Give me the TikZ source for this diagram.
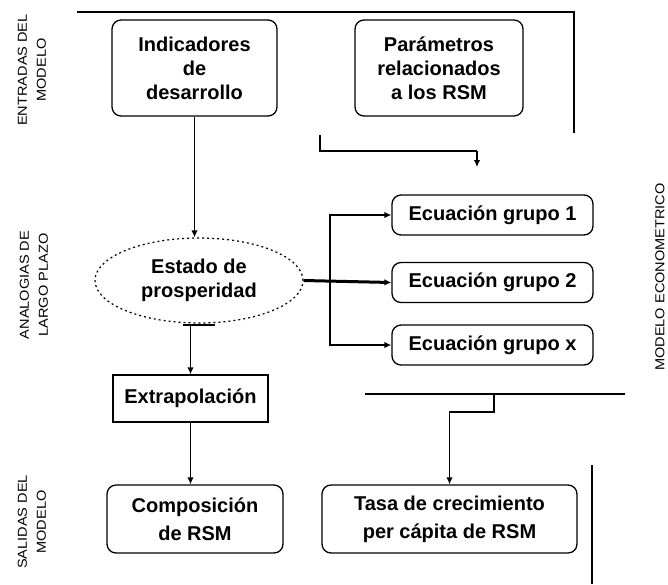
\documentclass[tikz,border=0pt]{standalone}
\usepackage{fontspec}
\setmainfont{Liberation Sans}
\usetikzlibrary{arrows.meta,shapes.geometric}
\begin{document}
\begin{tikzpicture}[x=1pt,y=-1pt,
  txt/.style={align=center,inner sep=0pt,font=\fontsize{20}{24}\selectfont\bfseries},
  rbox/.style={txt,draw,line width=1.3pt,rounded corners=9pt},
  sbox/.style={txt,draw,line width=1.3pt},
  ell/.style={txt,ellipse,draw,line width=1.2pt,dash pattern=on 2pt off 3pt},
  lab/.style={rotate=90,align=center,inner sep=0pt,font=\fontsize{13}{19}\selectfont},
  ln/.style={line width=1.5pt},
  arr/.style={line width=1.7pt,-{Latex[length=7pt,width=6.5pt]}}]
\useasboundingbox (0,0) rectangle (668,584);
% labels
\node[lab] (l1) at (32,70) {\scalebox{1.12}[1]{ENTRADAS DEL}\\\scalebox{1.12}[1]{MODELO}};
\node[lab] (l2) at (34,285) {\scalebox{1.12}[1]{ANALOGIAS DE}\\\scalebox{1.12}[1]{LARGO PLAZO}};
\node[lab] (l3) at (32,522) {\scalebox{1.12}[1]{SALIDAS DEL}\\\scalebox{1.12}[1]{MODELO}};
\node[lab] (l4) at (660,277) {\scalebox{1.12}[1]{MODELO ECONOMETRICO}};
% nodes
\node[rbox,minimum width=165pt,minimum height=96pt] (ind) at (194.5,68) {Indicadores\\de\\desarrollo};
\node[rbox,minimum width=168pt,minimum height=96pt] (par) at (439,68) {Parámetros\\relacionados\\a los RSM};
\node[ell,minimum width=208pt,minimum height=85pt] (est) at (199,280.5) {Estado de\\prosperidad};
\node[sbox,minimum width=155pt,minimum height=47pt] (ext) at (190.5,398.5) {Extrapolación};
\node[rbox,minimum width=176pt,minimum height=68pt] (com) at (195,519) {Composición\\[4pt]de RSM};
\node[rbox,minimum width=255pt,minimum height=68pt] (tas) at (449.5,519) {Tasa de crecimiento\\[4pt]per cápita de RSM};
\node[rbox,minimum width=201pt,minimum height=40pt] (eq1) at (492.5,215) {Ecuación grupo 1};
\node[rbox,minimum width=201pt,minimum height=40pt] (eq2) at (492.5,282.5) {Ecuación grupo 2};
\node[rbox,minimum width=201pt,minimum height=40pt] (eq3) at (492.5,345) {Ecuación grupo x};
% coordinates
\coordinate (t1) at (77,12);
\coordinate (t2) at (574,12);
\coordinate (t3) at (574,133);
\coordinate (b1) at (320,135);
\coordinate (b2) at (320,151);
\coordinate (b3) at (477,151);
\coordinate (b4) at (477,167);
\coordinate (jn) at (330,282.5);
\coordinate (tk1) at (183,325);
\coordinate (tk2) at (215,325);
\coordinate (h1) at (365,394);
\coordinate (h2) at (625,394);
\coordinate (hm) at (494,394);
\coordinate (v1) at (592,465);
\coordinate (v2) at (592,584);
% connectors
\draw[ln] (t1) -- (t2) -- (t3);
\draw[ln] (b1) -- (b2) -- (b3);
\draw[arr] (b3) -- (b4);
\draw[arr] (ind.south) -- (ind.south |- est.north);
\draw[line width=3pt,-{Latex[length=7pt,width=6.5pt]}] (est.east) -- (eq2.west);
\draw[arr] (jn) |- (eq1.west);
\draw[arr] (jn) |- (eq3.west);
\draw[ln] (tk1) -- (tk2);
\draw[arr] (est.south -| ext.north) -- (ext.north);
\draw[arr] (ext.south) -- (ext.south |- com.north);
\draw[ln] (h1) -- (h2);
\draw[arr] (hm) -- ++(0,18) -| (tas.north);
\draw[ln] (v1) -- (v2);
\end{tikzpicture}
\end{document}
